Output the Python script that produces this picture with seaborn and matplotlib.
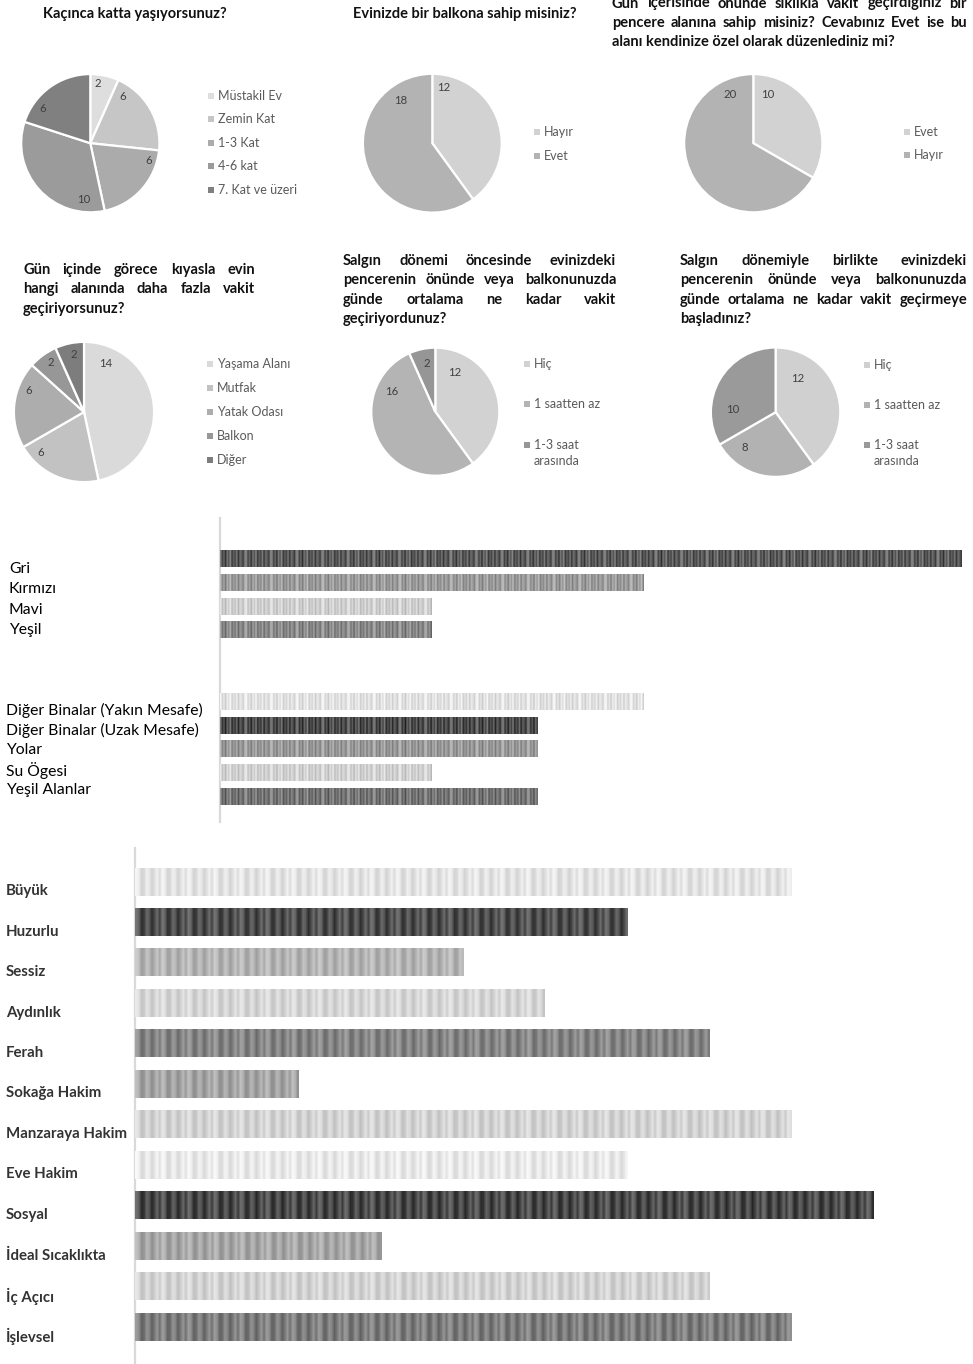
import numpy as np
import pandas as pd
import matplotlib
matplotlib.use("Agg")
import matplotlib.pyplot as plt
from matplotlib.patches import Rectangle
import seaborn as sns

# Pie chart data
floor_labels = ["Müstakil Ev", "Zemin Kat", "1-3 Kat", "4-6 kat", "7. Kat ve üzeri"]
floor_counts = [2, 6, 6, 10, 6]
balcony_labels = ["Hayır", "Evet"]
balcony_counts = [12, 18]
window_labels = ["Evet", "Hayır"]
window_counts = [10, 20]
room_labels = ["Yaşama Alanı", "Mutfak", "Yatak Odası", "Balkon", "Diğer"]
room_counts = [14, 6, 6, 2, 2]
time_labels = ["Hiç", "1 saatten az", "1-3 saat\narasında"]
time_before = [12, 16, 2]
time_during = [12, 8, 10]

# Bar chart data
colour_labels = ["Gri", "Kırmızı", "Mavi", "Yeşil"]
colour_counts = [7, 4, 2, 2]
view_labels = ["Diğer Binalar (Yakın Mesafe)", "Diğer Binalar (Uzak Mesafe)",
               "Yolar", "Su Ögesi", "Yeşil Alanlar"]
view_counts = [4, 3, 3, 2, 3]
quality_labels = ["Büyük", "Huzurlu", "Sessiz", "Aydınlık", "Ferah", "Sokağa Hakim",
                  "Manzaraya Hakim", "Eve Hakim", "Sosyal", "İdeal Sıcaklıkta",
                  "İç Açıcı", "İşlevsel"]
quality_counts = [8, 6, 4, 5, 7, 2, 8, 6, 9, 3, 7, 8]

# Titles (line breaks as in the picture)
titles = {
    "floor": ["Kaçınca katta yaşıyorsunuz?"],
    "balcony": ["Evinizde bir balkona sahip misiniz?"],
    "window": ["Gün içerisinde önünde sıklıkla vakit geçirdiğiniz bir",
               "pencere alanına sahip misiniz? Cevabınız Evet ise bu",
               "alanı kendinize özel olarak düzenlediniz mi?"],
    "room": ["Gün içinde görece kıyasla evin",
             "hangi alanında daha fazla vakit",
             "geçiriyorsunuz?"],
    "before": ["Salgın dönemi öncesinde evinizdeki",
               "pencerenin önünde veya balkonunuzda",
               "günde ortalama ne kadar vakit",
               "geçiriyordunuz?"],
    "during": ["Salgın dönemiyle birlikte evinizdeki",
               "pencerenin önünde veya balkonunuzda",
               "günde ortalama ne kadar vakit geçirmeye",
               "başladınız?"],
}

sns.set_theme(style="white")
plt.rcParams["font.family"] = ["Lato", "DejaVu Sans"]

W, H = 973, 1364
fig = plt.figure(figsize=(W / 100, H / 100), dpi=100)


def fx(px):
    return px / W


def fy(py):
    return 1 - py / H


def axes_px(x0, y0, x1, y1):
    return fig.add_axes([fx(x0), fy(y1), (x1 - x0) / W, (y1 - y0) / H])


def title_block(lines, x0, x1, y0, lh, n_justify):
    r = fig.canvas.get_renderer()
    kw = dict(fontsize=10.5, fontweight="bold", color="#111111", va="center", ha="left")
    for i, line in enumerate(lines):
        y = fy(y0 + i * lh)
        words = line.split()
        if i < n_justify and len(words) > 1:
            texts = [fig.text(0, y, w, **kw) for w in words]
            widths = [t.get_window_extent(r).width for t in texts]
            gap = ((x1 - x0) - sum(widths)) / (len(words) - 1)
            x = x0
            for t, w in zip(texts, widths):
                t.set_x(fx(x))
                x += w + gap
        else:
            fig.text(fx(x0), y, line, **kw)


def draw_pie(cx, cy, r, counts, colors, angles, dists):
    ax = axes_px(cx - r, cy - r, cx + r, cy + r)
    ax.pie(counts, colors=colors, startangle=90, counterclock=False,
           wedgeprops=dict(edgecolor="white", linewidth=1.6))
    ax.set_xlim(-1.02, 1.02)
    ax.set_ylim(-1.02, 1.02)
    for v, a, d in zip(counts, angles, dists):
        ax.text(d * np.cos(np.radians(a)), d * np.sin(np.radians(a)), str(v),
                ha="center", va="center", fontsize=8.2, color="#404040")
    return ax


def draw_legend(x, y, step, labels, colors, line_h=16):
    for i, (lab, col) in enumerate(zip(labels, colors)):
        yy = y + i * step
        fig.add_artist(Rectangle((fx(x - 3), fy(yy + 3)), 6 / W, 6 / H,
                                 transform=fig.transFigure, color=col, lw=0))
        for k, part in enumerate(lab.split("\n")):
            fig.text(fx(x + 7), fy(yy + k * line_h), part, ha="left", va="center",
                     fontsize=9, color="#5a5a5a")


def stripe_bars(ax, motif, px_per, amp):
    for p in list(ax.patches):
        w = p.get_width()
        if not np.isfinite(w) or w <= 0:
            continue
        base = np.array(p.get_facecolor()[:3])
        x0, y0, h = p.get_x(), p.get_y(), p.get_height()
        pw = ax.transData.transform((x0 + w, 0))[0] - ax.transData.transform((x0, 0))[0]
        n = max(int(pw / px_per), 1)
        m = np.array([motif[i % len(motif)] for i in range(n)])
        a = amp * (0.45 + (1 - base.mean()))
        g = np.clip(base[None, :] + a * m[:, None], 0, 1)
        ax.imshow(g[None, :, :], extent=(x0, x0 + w, y0 + h, y0), aspect="auto",
                  interpolation="bilinear", clip_path=p, zorder=3)


def style_bar_axes(ax):
    sns.despine(ax=ax, bottom=True)
    ax.spines["left"].set_color("#d9d9d9")
    ax.spines["left"].set_linewidth(1.6)
    ax.set_xticks([])
    ax.set_yticks([])
    ax.set_xlabel("")
    ax.set_ylabel("")


# ---- Pies, top row
pie1_colors = ["#dedede", "#c6c6c6", "#ababab", "#9b9b9b", "#808080"]
draw_pie(90.3, 143.2, 70.5, floor_counts, pie1_colors,
         [82.5, 55, -16.3, -97, 143.9], [0.87, 0.82, 0.88, 0.82, 0.85])
draw_legend(211, 95.5, 23.6, floor_labels, pie1_colors)

pie2_colors = ["#d2d2d2", "#b3b3b3"]
draw_pie(432.3, 143.2, 70.8, balcony_counts, pie2_colors, [78, 126.8], [0.82, 0.76])
draw_legend(537, 131.7, 24, balcony_labels, pie2_colors)

draw_pie(753.3, 143.2, 70.5, window_counts, pie2_colors, [73.3, 115], [0.74, 0.78])
draw_legend(907, 131.7, 23.5, window_labels, pie2_colors)

# ---- Pies, second row
pie4_colors = ["#dadada", "#c2c2c2", "#adadad", "#979797", "#7d7d7d"]
draw_pie(84, 412, 71.5, room_counts, pie4_colors,
         [66.4, -136.8, 158.6, 123.5, 100.1], [0.76, 0.85, 0.84, 0.85, 0.84])
draw_legend(210, 364.3, 23.8, room_labels, pie4_colors)

pie5_colors = ["#d2d2d2", "#b4b4b4", "#969696"]
draw_pie(435.3, 411.7, 65.3, time_before, pie5_colors, [63.4, 155, 100.4], [0.69, 0.75, 0.77])
draw_legend(527, 363.5, 40.8, time_labels, pie5_colors)

pie6_colors = ["#d0d0d0", "#b2b2b2", "#9a9a9a"]
draw_pie(775.6, 412.2, 66, time_during, pie6_colors, [57, -131.3, 177], [0.62, 0.73, 0.67])
draw_legend(867, 365, 40, time_labels, pie6_colors)

# ---- Titles
title_block(titles["floor"], 43, 225, 14, 19.3, 0)
title_block(titles["balcony"], 353, 578, 14, 19.3, 0)
title_block(titles["window"], 612, 967, 3.5, 19.3, 2)
title_block(titles["room"], 23, 255, 270, 19.3, 2)
title_block(titles["before"], 343, 616, 261, 19.3, 3)
title_block(titles["during"], 680, 967, 261, 19.3, 3)

# ---- Middle bar chart (colours and views)
fine_motif = [0.9, -0.6, 0.3, -1.0, 0.6, -0.2, 1.0, -0.8, 0.1, -0.5, 0.7, -0.9, 0.4, 0.0, -0.7, 0.8]
mid_colors = ["#5c5c5c", "#9c9c9c", "#d0d0d0", "#8a8a8a",
              "#e2e2e2", "#4e4e4e", "#9a9a9a", "#d2d2d2", "#767676"]
mid_labels = colour_labels + view_labels
mid_df = pd.DataFrame({"label": mid_labels, "count": colour_counts + view_counts})
mid_order = colour_labels + [" ", "  "] + view_labels

ax_mid = axes_px(220, 518, 966, 822)
sns.barplot(data=mid_df, y="label", x="count", order=mid_order, hue="label",
            palette=dict(zip(mid_labels, mid_colors)), legend=False, saturation=1,
            width=0.68, ax=ax_mid)
ax_mid.set_xlim(0, 7.04)
ax_mid.set_ylim(11.05, -1.72)
stripe_bars(ax_mid, fine_motif, 1.6, 0.16)
ax_mid.set_xlim(0, 7.04)
ax_mid.set_ylim(11.05, -1.72)
style_bar_axes(ax_mid)

for i, lab in enumerate(colour_labels):
    fig.text(fx(9), fy(569 + i * 20.3), lab, ha="left", va="center", fontsize=11.3, color="#000000")
for i, lab in enumerate(view_labels):
    fig.text(fx(6), fy(710 + i * 20.1), lab, ha="left", va="center", fontsize=11.3, color="#000000")

# ---- Bottom bar chart (qualities)
coarse_motif = [0.8, 0.4, -0.9, -0.7, 0.5, 0.1, -1.0, -0.3, 0.6, -0.5]
low_colors = ["#e6e6e6", "#555555", "#b8b8b8", "#d9d9d9", "#8a8a8a", "#a9a9a9",
              "#d6d6d6", "#ebebeb", "#4f4f4f", "#ababab", "#d6d6d6", "#828282"]
low_df = pd.DataFrame({"label": quality_labels, "count": quality_counts})

ax_low = axes_px(135, 848, 955, 1364)
sns.barplot(data=low_df, y="label", x="count", order=quality_labels, hue="label",
            palette=dict(zip(quality_labels, low_colors)), legend=False, saturation=1,
            width=0.67, ax=ax_low)
ax_low.set_xlim(0, 10)
ax_low.set_ylim(11.91, -0.84)
stripe_bars(ax_low, coarse_motif, 2.6, 0.14)
ax_low.set_xlim(0, 10)
ax_low.set_ylim(11.91, -0.84)
style_bar_axes(ax_low)

for i, lab in enumerate(quality_labels):
    fig.text(fx(6), fy(891 + i * 40.5), lab, ha="left", va="center", fontsize=10.8,
             fontweight="bold", color="#333333")

fig.savefig("out.png", dpi=100)
plt.close(fig)
